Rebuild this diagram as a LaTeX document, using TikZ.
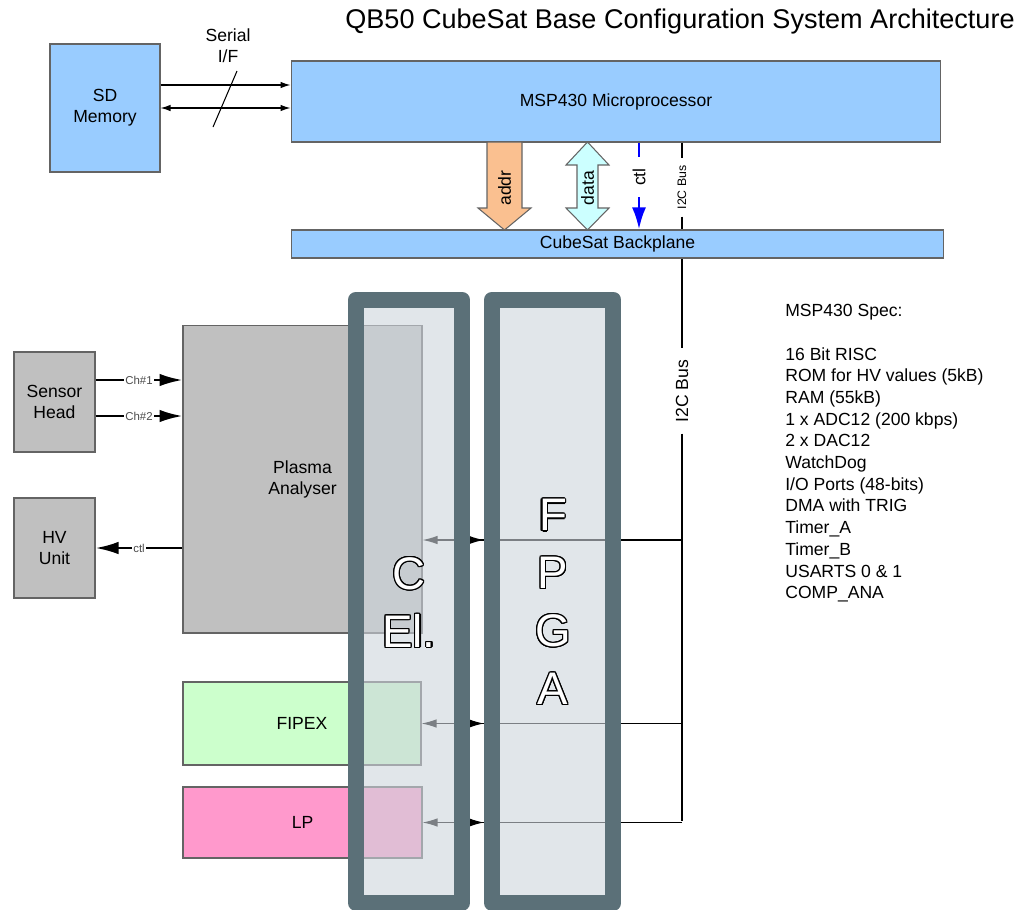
\documentclass[tikz,border=0pt]{standalone}
\usepackage{fontspec}
\setmainfont{Liberation Sans}
\usepackage{contour}
\usetikzlibrary{arrows.meta,calc}
\definecolor{BoxBlue}{RGB}{153,204,255}
\definecolor{BoxGray}{RGB}{192,192,192}
\definecolor{BoxGreen}{RGB}{204,255,204}
\definecolor{BoxPink}{RGB}{255,153,204}
\definecolor{AddrOrange}{RGB}{250,192,144}
\definecolor{DataCyan}{RGB}{204,255,255}
\definecolor{BarSlate}{RGB}{91,112,120}
\definecolor{BarFill}{RGB}{205,213,220}
\definecolor{EdgeGray}{RGB}{100,100,100}
\pgfdeclarelayer{back}
\pgfsetlayers{back,main}
\contourlength{0.7pt}
\newcommand{\hollow}[1]{\contour{black}{\textcolor{white}{#1}}}

\begin{document}
\begin{tikzpicture}[x=0.02cm,y=-0.02cm,
  unit/.style={draw=EdgeGray,line width=0.6pt,align=center,inner sep=0pt,
               font=\fontsize{10}{12}\selectfont},
  bar/.style={draw=BarSlate,line width=0.32cm,line join=round,
              fill=BarFill,fill opacity=0.6,inner sep=0pt},
  serial/.style={line width=0.7pt,-{Latex[length=0.2cm,width=0.13cm]}},
  chan/.style={line width=1.4pt,-{Latex[length=0.46cm,width=0.25cm]}},
  tag/.style={fill=white,inner sep=0.6pt,font=\fontsize{6.5}{7}\selectfont,text=black!70},
  tap/.style={line width=0.7pt,-{Latex[length=0.3cm,width=0.17cm]}},
  blockarrow/.style={draw=EdgeGray,line width=0.6pt},
  vlabel/.style={rotate=90,inner ysep=0pt,font=\fontsize{10}{12}\selectfont},
  hollowtext/.style={align=center,inner sep=0pt,font=\fontsize{26}{33}\selectfont},
]
\useasboundingbox (0,0) rectangle (1029,910);

% title
\node[anchor=north east,inner sep=0pt,font=\fontsize{15.4}{17}\selectfont]
  (title) at (1015,9) {QB50 CubeSat Base Configuration System Architecture};

% processor and backplane
\node[unit,fill=BoxBlue,minimum width=13cm,minimum height=1.62cm] (mcu) at (616,101.5) {MSP430 Microprocessor};
\node[unit,fill=BoxBlue,minimum width=2.2cm,minimum height=2.56cm] (sd) at (105,108) {SD\\Memory};
\node[unit,fill=BoxBlue,minimum width=13.06cm,minimum height=0.56cm] (bp) at (617.5,244) {CubeSat Backplane};

% serial interface
\coordinate (ser1) at ($(sd.east)+(0,-23)$);
\draw[serial] (ser1) -- (ser1 -| mcu.west);
\draw[serial,{Latex[length=0.2cm,width=0.13cm]}-{Latex[length=0.2cm,width=0.13cm]}] (sd.east) -- (sd.east -| mcu.west);
\draw[line width=0.6pt] (237,71) -- (213,127);
\node[align=center,inner sep=0pt,font=\fontsize{10}{12}\selectfont] (serlbl) at (228,46) {Serial\\I/F};

% addr / data / ctl / I2C between processor and backplane
\draw[blockarrow,fill=AddrOrange] (487,142) -- (522,142) -- (522,208) -- (531,208)
  -- (504.5,230) -- (478,208) -- (487,208) -- cycle;
\node[vlabel] (addr) at (504.5,188) {addr};
\draw[blockarrow,fill=DataCyan] (587.5,142) -- (609,165) -- (598,165) -- (598,208)
  -- (609,208) -- (587.5,230) -- (566,208) -- (577,208) -- (577,165) -- (566,165) -- cycle;
\node[vlabel] (data) at (587.5,188) {data};
\node[vlabel,inner xsep=0.22cm] (ctl) at (639,177) {ctl};
\draw[blue,line width=1.6pt] (mcu.south -| ctl) -- (ctl.east);
\draw[blue,line width=1.6pt,-{Latex[length=0.44cm,width=0.28cm]}] (ctl.west) -- (bp.north -| ctl);
\node[rotate=90,inner ysep=0pt,inner xsep=0.14cm,font=\fontsize{7}{8}\selectfont] (i2ctop) at (682,187.5) {I2C Bus};
\draw[line width=0.6pt] (mcu.south -| i2ctop) -- (i2ctop.east);
\draw[line width=0.6pt] (i2ctop.west) -- (bp.north -| i2ctop);

% electronics columns
\node[bar,minimum width=2.12cm,minimum height=12.07cm] (cel) at (409,601.25) {};
\node[bar,minimum width=2.43cm,minimum height=12.07cm] (fpga) at (552.75,601.25) {};

\begin{pgfonlayer}{back}
% instruments
\node[unit,fill=BoxGray,minimum width=1.62cm,minimum height=2cm] (sh) at (54.5,402) {Sensor\\Head};
\node[unit,fill=BoxGray,minimum width=1.62cm,minimum height=2cm] (hv) at (54.5,548) {HV\\Unit};
\node[unit,fill=BoxGray,minimum width=4.78cm,minimum height=6.16cm] (pa) at (302.5,479) {Plasma\\Analyser};
\node[unit,fill=BoxGreen,minimum width=4.76cm,minimum height=1.66cm] (fx) at (302,723.5) {FIPEX};
\node[unit,fill=BoxPink,minimum width=4.78cm,minimum height=1.42cm] (lp) at (302.5,822.5) {LP};

% sensor head and HV unit links
\coordinate (ch1) at ($(sh.east)+(0,-22)$);
\coordinate (ch2) at ($(sh.east)+(0,14)$);
\draw[chan] (ch1) -- (ch1 -| pa.west) node[midway,tag] {Ch\#1};
\draw[chan] (ch2) -- (ch2 -| pa.west) node[midway,tag] {Ch\#2};
\draw[chan] (hv.east -| pa.west) -- (hv.east) node[midway,tag] {ctl};

% I2C bus
\node[rotate=90,inner ysep=0pt,inner xsep=0.22cm,font=\fontsize{10}{12}\selectfont] (i2c) at (682,391) {I2C Bus};
\coordinate (busend) at (682,821);
\coordinate (tapA) at (682,540);
\draw[line width=0.7pt] (bp.south -| i2c) -- (i2c.east);
\draw[line width=0.7pt] (i2c.west) -- (busend);
\foreach \dst/\row in {pa/tapA,fx/fx.east,lp/lp.east} {
  \draw[tap] (\row -| busend) -- (\row -| \dst.east);
  \draw[tap] (\row -| cel.east) -- (\row -| fpga.west);
}
\end{pgfonlayer}

% column captions
\node[hollowtext,anchor=north] (cellbl) at (409,557) {\hollow{C}\\\hollow{El.}};
\node[hollowtext,anchor=north] (fpgalbl) at (553,499) {\hollow{F}\\\hollow{P}\\\hollow{G}\\\hollow{A}};

% processor data sheet
\node[anchor=north west,align=left,inner sep=0pt,font=\fontsize{10}{12.35}\selectfont] (spec) at (785,304)
  {MSP430 Spec:\\[12.35pt]
   16 Bit RISC\\
   ROM for HV values (5kB)\\
   RAM (55kB)\\
   1 x ADC12 (200 kbps)\\
   2 x DAC12\\
   WatchDog\\
   I/O Ports (48-bits)\\
   DMA with TRIG\\
   Timer\_A\\
   Timer\_B\\
   USARTS 0 \& 1\\
   COMP\_ANA};
\end{tikzpicture}
\end{document}
